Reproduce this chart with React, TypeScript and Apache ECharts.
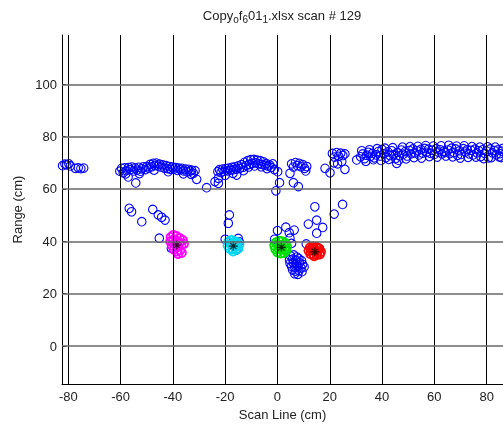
import React, { useEffect, useRef } from 'react';
import * as echarts from 'echarts';

const xTicks = [-80, -60, -40, -20, 0, 20, 40, 60, 80];
const yTicks = [0, 20, 40, 60, 80, 100];
const xRange = [-82.41, 86.26];
const yRange = [-14.52, 118.84];

const titleText = 'Copy{s|o}f{s|6}01{s|1}.xlsx scan # 129';
const xName = 'Scan Line (cm)';
const yName = 'Range (cm)';

const bluePoints: number[][] = [
  // far left
  [-82.2, 68.9], [-81.3, 69.5], [-80.6, 69.2], [-79.8, 69.6], [-79.2, 68.8], [-77.3, 67.9], [-76.2, 68.1], [-75.2, 67.8], [-74.1, 68.0],
  // band -60..-31
  [-60.3, 66.8], [-59.6, 67.9], [-59.0, 66.2], [-58.4, 68.1], [-57.8, 67.0], [-57.1, 64.6], [-56.9, 68.2], [-56.3, 67.4], [-55.7, 68.4],
  [-55.0, 66.9], [-54.2, 62.3], [-54.4, 68.0], [-53.7, 67.2], [-53.1, 68.3], [-52.4, 66.8], [-51.8, 67.7], [-51.2, 68.5], [-50.5, 67.4],
  [-49.9, 68.6], [-49.3, 68.0], [-48.7, 69.4], [-48.1, 68.5], [-47.5, 69.8], [-46.9, 69.0], [-46.3, 69.9], [-45.7, 68.7], [-45.1, 69.5],
  [-44.5, 68.4], [-43.9, 69.2], [-43.3, 68.0], [-42.6, 68.9], [-42.0, 67.8], [-41.4, 68.6], [-40.8, 67.5], [-40.2, 68.4], [-39.6, 67.6],
  [-39.0, 68.2], [-38.3, 67.1], [-37.7, 68.0], [-37.1, 67.3], [-36.5, 67.9], [-35.9, 66.9], [-35.2, 67.6], [-34.6, 66.6], [-34.0, 67.5],
  [-33.4, 66.8], [-32.8, 67.2], [-32.2, 66.0], [-31.5, 67.0], [-30.9, 63.7],
  [-58.0, 65.8], [-52.8, 65.9], [-47.2, 67.2], [-41.8, 66.6], [-36.0, 65.8], [-33.0, 65.6],
  [-27.1, 60.5], [-23.9, 62.8], [-22.6, 62.2], [-22.6, 64.1],
  // band -23..-1
  [-22.8, 66.6], [-22.2, 67.4], [-21.6, 66.3], [-21.0, 67.6], [-20.4, 66.8], [-19.8, 67.8], [-19.2, 66.9], [-18.6, 68.0], [-18.0, 67.2],
  [-17.4, 68.3], [-16.8, 67.4], [-16.2, 68.5], [-15.6, 65.3], [-15.6, 67.6], [-15.0, 68.8], [-14.4, 67.9], [-13.8, 69.3], [-13.2, 68.3],
  [-12.6, 70.2], [-12.0, 68.9], [-11.4, 70.8], [-10.8, 69.4], [-10.2, 71.2], [-9.6, 69.8], [-9.0, 71.3], [-8.4, 70.0], [-7.8, 71.0],
  [-7.2, 69.6], [-6.6, 70.8], [-6.0, 69.4], [-5.4, 70.4], [-4.8, 69.1], [-4.2, 69.7], [-3.6, 68.7], [-3.0, 69.2], [-2.4, 68.3],
  [-1.8, 69.6], [-1.2, 67.4], [0.1, 66.6], [0.8, 62.4], [-0.6, 59.3],
  [-20.0, 65.2], [-17.0, 66.0], [-13.0, 67.0], [-11.0, 68.4], [-8.8, 68.8], [-6.2, 68.5], [-4.0, 67.8],
  // near 5..11
  [5.4, 69.6], [6.1, 68.4], [6.9, 70.1], [7.6, 68.9], [8.3, 69.8], [9.0, 68.5], [9.7, 69.3], [10.4, 67.9], [11.2, 68.6], [10.8, 66.9],
  [4.8, 66.0], [6.1, 62.4], [8.0, 60.9],
  // 18..27
  [18.2, 67.9], [20.1, 66.2],
  [21.0, 73.6], [21.8, 72.2], [22.6, 73.9], [23.4, 72.5], [24.2, 73.7], [25.0, 72.8], [25.8, 73.4], [21.6, 70.0], [23.0, 69.6], [24.6, 70.5], [25.8, 67.5],
  [30.3, 71.1],
  // right band
  [31.8, 72.3], [32.6, 73.4], [33.3, 71.6], [34.1, 72.9], [34.8, 74.0], [35.6, 72.5], [36.3, 73.6], [37.0, 71.9], [37.8, 73.0], [38.5, 74.3],
  [39.3, 72.6], [40.0, 75.1], [40.7, 73.4], [41.5, 72.0], [42.2, 74.2], [43.0, 72.8], [43.7, 74.6], [44.4, 73.1], [45.2, 71.6], [45.6, 69.8],
  [45.9, 74.0], [46.7, 72.7], [47.4, 74.9], [48.1, 73.3], [48.9, 74.3], [49.6, 72.6], [50.4, 74.7], [51.1, 73.4], [51.8, 75.3], [52.6, 73.8],
  [53.3, 74.6], [54.1, 73.0], [54.8, 75.1], [55.5, 73.7], [56.3, 75.5], [57.0, 74.0], [57.8, 75.2], [58.5, 73.6], [59.2, 74.8], [60.0, 73.2],
  [60.7, 75.4], [61.5, 74.1], [62.2, 75.0], [62.9, 73.4], [63.7, 74.5], [64.4, 72.6], [65.2, 74.9], [65.9, 73.5], [66.6, 75.6], [67.4, 74.0],
  [68.1, 75.3], [68.9, 72.9], [69.6, 74.6], [70.3, 73.2], [71.1, 75.4], [71.8, 74.1], [72.6, 75.0], [73.3, 73.4], [74.0, 74.8], [74.8, 73.0],
  [75.5, 75.2], [76.3, 73.8], [77.0, 74.6], [77.7, 72.4], [78.5, 75.0], [79.2, 73.6], [80.0, 74.5], [80.7, 71.9], [81.4, 75.3], [82.2, 73.8],
  [82.9, 74.7], [83.7, 73.1], [84.4, 75.0], [85.1, 73.5], [85.9, 74.4],
  [32.2, 74.6], [33.8, 70.6], [35.2, 75.0], [36.7, 71.2], [38.1, 75.4], [39.6, 70.9], [41.1, 75.6], [42.6, 71.3], [44.1, 75.8], [46.3, 71.0],
  [47.8, 76.0], [49.2, 71.5], [50.7, 76.2], [52.2, 72.0], [53.7, 76.3], [55.1, 71.8], [56.7, 76.6], [58.1, 72.4], [59.6, 76.4], [61.1, 72.2],
  [62.6, 76.5], [64.1, 74.0], [65.5, 76.7], [67.0, 72.3], [68.5, 76.4], [69.9, 71.8], [71.4, 76.5], [72.9, 72.1], [74.4, 76.2], [75.9, 72.2],
  [77.4, 76.0], [78.9, 71.6], [80.4, 76.1], [81.8, 72.0], [83.3, 76.0], [84.8, 72.3], [86.2, 75.5], [85.6, 72.0],
  // lower scatter
  [-56.7, 52.6], [-55.8, 51.3], [-51.9, 47.5], [-47.7, 52.2], [-45.6, 50.1], [-44.3, 49.2], [-43.0, 48.1], [-45.2, 41.2], [-40.6, 37.4],
  [-18.4, 50.1], [-18.8, 46.9], [-20.0, 40.8], [-15.0, 41.1], [-15.6, 36.7], [-14.6, 39.8],
  [0.0, 44.1], [3.2, 45.4], [4.5, 43.3], [6.4, 44.3], [-1.1, 40.8], [4.8, 41.2], [5.4, 39.2],
  [5.0, 34.4], [6.2, 34.8], [7.4, 34.0], [4.6, 33.0], [5.8, 33.2], [7.0, 32.8], [8.2, 33.4], [9.2, 32.6], [4.8, 31.6], [6.0, 31.8],
  [7.2, 31.4], [8.4, 31.8], [9.6, 31.2], [10.2, 30.2], [5.4, 30.4], [6.6, 30.0], [7.8, 30.4], [9.0, 29.8], [5.8, 29.0], [7.0, 28.6],
  [8.2, 28.8], [9.4, 28.4], [6.6, 27.6], [7.8, 27.4],
  [14.3, 53.2], [11.8, 46.6], [15.0, 48.1], [17.3, 45.3], [15.0, 43.1], [11.0, 39.0], [21.7, 50.4], [24.9, 54.1], [15.0, 37.9],
];

const magentaPoints: number[][] = [
  [-40.8, 41.6], [-39.8, 42.4], [-38.6, 42.0], [-37.4, 41.2], [-41.0, 40.0], [-39.8, 40.6], [-38.6, 40.2], [-37.4, 39.6], [-36.2, 40.4],
  [-40.4, 38.4], [-39.2, 38.8], [-38.0, 38.0], [-36.8, 38.4], [-35.8, 39.0], [-39.6, 36.8], [-38.4, 36.2], [-37.2, 36.6], [-38.0, 35.2], [-36.6, 35.6],
];
const cyanPoints: number[][] = [
  [-18.8, 39.8], [-17.6, 40.4], [-16.4, 40.0], [-15.2, 39.6], [-19.0, 38.4], [-17.8, 38.8], [-16.6, 38.6], [-15.4, 38.2],
  [-14.6, 38.8], [-18.4, 37.2], [-17.2, 37.0], [-16.0, 36.8], [-15.0, 37.2], [-17.0, 36.2], [-16.2, 39.4],
];
const greenPoints: number[][] = [
  [-0.6, 39.6], [0.6, 40.2], [1.8, 40.0], [3.0, 39.4], [-1.2, 38.4], [0.0, 38.8], [1.2, 38.4], [2.4, 38.6], [3.6, 38.0],
  [-0.8, 37.0], [0.4, 37.2], [1.6, 36.8], [2.8, 37.0], [3.4, 36.4], [0.0, 35.8], [1.2, 35.4], [2.4, 35.6], [1.5, 37.7],
];
const redPoints: number[][] = [
  [12.4, 37.6], [13.6, 38.0], [14.8, 37.8], [16.0, 37.2], [11.9, 36.4], [13.0, 36.6], [14.2, 36.4], [15.4, 36.2],
  [16.6, 36.0], [12.6, 35.2], [13.8, 35.0], [15.0, 34.8], [16.2, 35.0], [14.0, 34.4], [13.4, 37.2], [15.6, 37.4],
];
const centers: number[][] = [[-38.5, 38.6], [-16.9, 38.2], [1.5, 37.7], [14.3, 36.0]];

const FONT = 'Liberation Sans, Arial, Helvetica, sans-serif';

export default function App() {
  const ref = useRef<HTMLDivElement>(null);
  useEffect(() => {
    if (!ref.current) return;
    const chart = echarts.init(ref.current, undefined, { renderer: 'svg' });
    const circleSeries = (data: number[][], color: string, z: number, width: number) => ({
      type: 'scatter',
      data,
      symbol: 'circle',
      symbolSize: 8.5,
      z,
      silent: true,
      itemStyle: { color: 'rgba(0,0,0,0)', borderColor: color, borderWidth: width, opacity: 1 },
    });
    chart.setOption({
      animation: false,
      grid: { left: 62, right: 0, top: 35, bottom: 42 },
      xAxis: {
        type: 'value',
        min: xRange[0],
        max: xRange[1],
        name: xName,
        nameLocation: 'middle',
        nameGap: 24,
        nameTextStyle: { fontSize: 13, color: '#222', fontFamily: FONT },
        axisLine: { show: true, onZero: false, lineStyle: { color: '#000', width: 1 } },
        axisTick: { show: true, inside: true, length: 4, customValues: xTicks, lineStyle: { color: '#000' } },
        axisLabel: { customValues: xTicks, fontSize: 13, color: '#222', fontFamily: FONT, margin: 6 },
        splitLine: { show: false },
      },
      yAxis: {
        type: 'value',
        min: yRange[0],
        max: yRange[1],
        name: yName,
        nameLocation: 'middle',
        nameGap: 33,
        nameTextStyle: { fontSize: 13, color: '#222', fontFamily: FONT },
        axisLine: { show: true, onZero: false, lineStyle: { color: '#000', width: 1 } },
        axisTick: { show: true, inside: true, length: 4, customValues: yTicks, lineStyle: { color: '#000' } },
        axisLabel: { customValues: yTicks, fontSize: 13, color: '#222', fontFamily: FONT, margin: 5 },
        splitLine: { show: false },
      },
      graphic: [
        {
          type: 'text',
          x: 282,
          y: 15,
          style: {
            text: titleText,
            align: 'center',
            verticalAlign: 'middle',
            fontSize: 13,
            lineHeight: 19,
            fontFamily: FONT,
            fill: '#222',
            rich: {
              s: { fontSize: 10, lineHeight: 10, verticalAlign: 'bottom', fontFamily: FONT, fill: '#222' },
            },
          },
        },
      ],
      series: [
        {
          type: 'scatter',
          data: [],
          z: 1,
          silent: true,
          markLine: {
            silent: true,
            symbol: ['none', 'none'],
            label: { show: false },
            animation: false,
            data: [
              ...xTicks.map((v) => ({ xAxis: v, lineStyle: { color: '#000', width: 1, type: 'solid' } })),
              ...yTicks.map((v) => ({ yAxis: v, lineStyle: { color: '#666', width: 1.6, type: 'solid' } })),
            ],
          },
        },
        circleSeries(bluePoints, '#0000ff', 2, 1.1),
        circleSeries(magentaPoints, '#ff00ff', 3, 1.7),
        circleSeries(cyanPoints, '#00d8f0', 3, 1.7),
        circleSeries(greenPoints, '#00e000', 3, 1.7),
        circleSeries(redPoints, '#ff0000', 3, 1.7),
        {
          type: 'scatter',
          data: centers,
          z: 4,
          silent: true,
          symbol: 'path://M5,0L5,10M0,5L10,5M1.5,1.5L8.5,8.5M1.5,8.5L8.5,1.5',
          symbolSize: 9,
          itemStyle: { color: 'rgba(0,0,0,0)', borderColor: '#000', borderWidth: 1.2 },
        },
      ],
    });
    return () => chart.dispose();
  }, []);
  return <div ref={ref} style={{ position: 'fixed', left: 0, top: 0, width: 503, height: 426 }} />;
}
